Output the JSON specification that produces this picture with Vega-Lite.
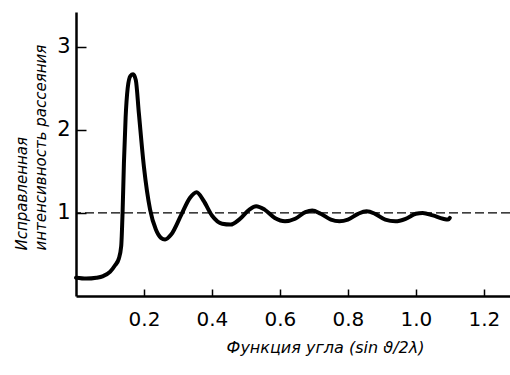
{
  "$schema": "https://vega.github.io/schema/vega-lite/v6.json",
  "width": 434,
  "height": 284,
  "autosize": {"type": "none"},
  "padding": {"left": 76, "top": 12, "right": 0, "bottom": 79},
  "background": "white",
  "config": {"view": {"stroke": null}, "font": "DejaVu Sans"},
  "resolve": {"axis": {"y": "independent"}},
  "layer": [
    {
      "data": {"values": [{"level": 1}]},
      "mark": {"type": "rule", "strokeDash": [9, 4], "strokeWidth": 1.3, "color": "black"},
      "encoding": {
        "y": {"field": "level", "type": "quantitative", "axis": null, "scale": {"domain": [0, 3.42], "nice": false}}
      }
    },
    {
      "data": {
        "values": [
          {"s": 0.0, "intensity": 0.22},
          {"s": 0.03, "intensity": 0.21},
          {"s": 0.06, "intensity": 0.22},
          {"s": 0.08, "intensity": 0.24},
          {"s": 0.10, "intensity": 0.29},
          {"s": 0.115, "intensity": 0.37},
          {"s": 0.126, "intensity": 0.45},
          {"s": 0.133, "intensity": 0.6},
          {"s": 0.137, "intensity": 1.0},
          {"s": 0.141, "intensity": 1.6},
          {"s": 0.146, "intensity": 2.15},
          {"s": 0.152, "intensity": 2.5},
          {"s": 0.160, "intensity": 2.65},
          {"s": 0.168, "intensity": 2.67},
          {"s": 0.176, "intensity": 2.6},
          {"s": 0.185, "intensity": 2.2},
          {"s": 0.20, "intensity": 1.55},
          {"s": 0.218, "intensity": 1.04},
          {"s": 0.235, "intensity": 0.8},
          {"s": 0.25, "intensity": 0.7},
          {"s": 0.262, "intensity": 0.68},
          {"s": 0.28, "intensity": 0.74},
          {"s": 0.31, "intensity": 0.98},
          {"s": 0.335, "intensity": 1.18},
          {"s": 0.355, "intensity": 1.25},
          {"s": 0.375, "intensity": 1.15},
          {"s": 0.40, "intensity": 0.97},
          {"s": 0.43, "intensity": 0.87},
          {"s": 0.455, "intensity": 0.86},
          {"s": 0.48, "intensity": 0.92},
          {"s": 0.51, "intensity": 1.04},
          {"s": 0.53, "intensity": 1.08},
          {"s": 0.555, "intensity": 1.04},
          {"s": 0.585, "intensity": 0.94},
          {"s": 0.615, "intensity": 0.9},
          {"s": 0.645, "intensity": 0.93},
          {"s": 0.675, "intensity": 1.01},
          {"s": 0.695, "intensity": 1.03},
          {"s": 0.72, "intensity": 0.99},
          {"s": 0.75, "intensity": 0.92},
          {"s": 0.775, "intensity": 0.9},
          {"s": 0.80, "intensity": 0.92},
          {"s": 0.83, "intensity": 0.99},
          {"s": 0.855, "intensity": 1.02},
          {"s": 0.88, "intensity": 0.99},
          {"s": 0.91, "intensity": 0.92},
          {"s": 0.94, "intensity": 0.9},
          {"s": 0.97, "intensity": 0.93},
          {"s": 1.0, "intensity": 0.99},
          {"s": 1.02, "intensity": 1.0},
          {"s": 1.05, "intensity": 0.97},
          {"s": 1.08, "intensity": 0.93},
          {"s": 1.095, "intensity": 0.92},
          {"s": 1.10, "intensity": 0.94}
        ]
      },
      "mark": {"type": "line", "strokeWidth": 4, "color": "black", "interpolate": "monotone", "strokeCap": "round", "strokeJoin": "round"},
      "encoding": {
        "x": {
          "field": "s",
          "type": "quantitative",
          "scale": {"domain": [0, 1.277], "nice": false, "zero": false},
          "axis": {
            "values": [0.2, 0.4, 0.6, 0.8, 1.0, 1.2],
            "format": ".1f",
            "grid": false,
            "domainColor": "black",
            "domainWidth": 2.5,
            "tickColor": "black",
            "tickWidth": 1.5,
            "tickSize": -7,
            "labelFontSize": 20,
            "labelColor": "black",
            "labelPadding": 20,
            "title": "Функция угла (sin ϑ/2λ)",
            "titleFont": "DejaVu Sans",
            "titleFontStyle": "italic",
            "titleFontWeight": "normal",
            "titleFontSize": 16,
            "titleColor": "black",
            "titleX": 249,
            "titleY": 56,
            "titleAlign": "center",
            "titleBaseline": "alphabetic"
          }
        },
        "y": {
          "field": "intensity",
          "type": "quantitative",
          "scale": {"domain": [0, 3.42], "nice": false},
          "axis": {
            "values": [1, 2, 3],
            "grid": false,
            "domainColor": "black",
            "domainWidth": 2.5,
            "tickColor": "black",
            "tickWidth": 1.5,
            "tickSize": -10,
            "labelFontSize": 21,
            "labelColor": "black",
            "labelPadding": 16,
            "title": ["Исправленная", "интенсивность рассеяния"],
            "titleFont": "DejaVu Sans",
            "titleFontStyle": "italic",
            "titleFontWeight": "normal",
            "titleFontSize": 15,
            "titleColor": "black",
            "titleAngle": -90,
            "titleAlign": "left",
            "titleBaseline": "alphabetic",
            "titleLineHeight": 19,
            "titleX": -50,
            "titleY": 238
          }
        }
      }
    }
  ]
}
